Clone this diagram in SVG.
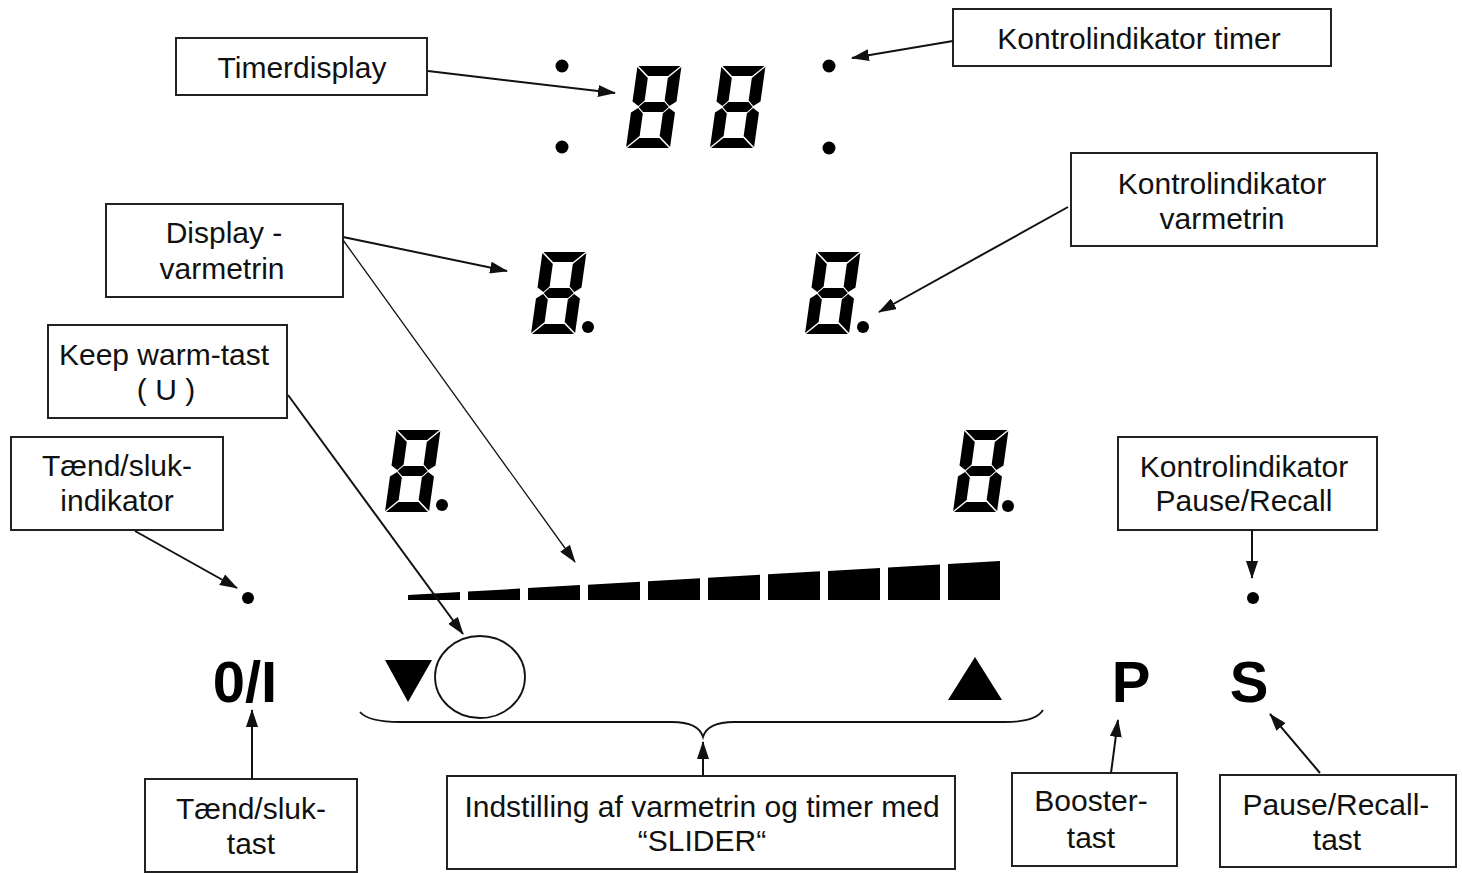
<svg xmlns="http://www.w3.org/2000/svg" width="1462" height="873" viewBox="0 0 1462 873">
<style>
.box{fill:#fff;stroke:#222;stroke-width:2}
.lbl{font-family:"Liberation Sans",Arial,sans-serif;font-size:30px;fill:#111;text-anchor:middle}
.key{font-family:"Liberation Sans",Arial,sans-serif;font-weight:bold;font-size:58px;fill:#000;text-anchor:middle}
.con{stroke:#111;stroke-width:2;fill:none;marker-end:url(#ah)}
.thin{stroke-width:1.3}
.seg{fill:#000}
</style>
<defs>
<marker id="ah" viewBox="0 0 18 12" refX="17" refY="6" markerWidth="18" markerHeight="12" orient="auto" markerUnits="userSpaceOnUse"><path d="M0,0 L18,6 L0,12 z" fill="#111"/></marker>
<g id="digit" class="seg">
<polygon points="1,0 43,0 32,10 12,10"/>
<polygon points="0,1 12,12 12,34.5 6.5,40 0,35.5"/>
<polygon points="44,1 32,12 32,34.5 37.5,40 44,35.5"/>
<polygon points="7,41 12,36 32,36 37,41 32,46 12,46"/>
<polygon points="0,46.5 6.5,42 12,47.5 12,70 0,81"/>
<polygon points="44,46.5 37.5,42 32,47.5 32,70 44,81"/>
<polygon points="12,72 32,72 43,82 1,82"/>
</g>
</defs>
<rect width="1462" height="873" fill="#fff"/>

<g id="timer-display">
<use href="#digit" transform="translate(637.5,66) skewX(-8)"/>
<use href="#digit" transform="translate(721.5,66) skewX(-8)"/>
<circle cx="562" cy="66" r="6.5"/><circle cx="562" cy="147" r="6.5"/>
</g>
<g id="timer-indicator">
<circle cx="829" cy="66" r="6.5"/><circle cx="829" cy="148" r="6.5"/>
</g>
<g id="heat-tl"><use href="#digit" transform="translate(542.5,252) skewX(-8)"/><circle cx="588" cy="327" r="6"/></g>
<g id="heat-tr"><use href="#digit" transform="translate(816.5,252) skewX(-8)"/><circle cx="863" cy="327" r="6"/></g>
<g id="heat-bl"><use href="#digit" transform="translate(396.5,430) skewX(-8)"/><circle cx="442" cy="505" r="6"/></g>
<g id="heat-br"><use href="#digit" transform="translate(964.5,430) skewX(-8)"/><circle cx="1008" cy="506" r="6"/></g>

<g id="slider-bar" fill="#000">
<polygon points="408,600 408,595 460,592 460,600"/>
<polygon points="468,600 468,591.6 520,588.6 520,600"/>
<polygon points="528,600 528,588.1 580,585.1 580,600"/>
<polygon points="588,600 588,584.7 640,581.7 640,600"/>
<polygon points="648,600 648,581.2 700,578.2 700,600"/>
<polygon points="708,600 708,577.8 760,574.8 760,600"/>
<polygon points="768,600 768,574.3 820,571.3 820,600"/>
<polygon points="828,600 828,570.9 880,567.9 880,600"/>
<polygon points="888,600 888,567.4 940,564.4 940,600"/>
<polygon points="948,600 948,564 1000,561 1000,600"/>
</g>
<g id="slider-keys">
<polygon points="385,660 432,660 408,702" fill="#000"/>
<ellipse cx="480" cy="677" rx="45" ry="41" fill="#fff" stroke="#111" stroke-width="1.8"/>
<polygon points="948,700 1002,700 975,657" fill="#000"/>
<path d="M360,712 C366,719 378,722 400,722 L672,722 C690,722 700,727 703,737 C706,727 716,722 734,722 L1005,722 C1026,722 1038,718 1043,710" fill="none" stroke="#111" stroke-width="1.8"/>
</g>
<g id="power-indicator"><circle cx="248" cy="598" r="6"/></g>
<g id="pause-indicator"><circle cx="1253" cy="598" r="6"/></g>
<g id="key-onoff"><text class="key" x="245" y="702">0/I</text></g>
<g id="key-p"><text class="key" x="1131" y="702">P</text></g>
<g id="key-s"><text class="key" x="1249" y="702">S</text></g>

<g id="lbl-timerdisplay"><rect class="box" x="176" y="38" width="251" height="57"/><text class="lbl" x="302" y="78">Timerdisplay</text></g>
<g id="lbl-kontrol-timer"><rect class="box" x="953" y="9" width="378" height="57"/><text class="lbl" x="1139" y="49">Kontrolindikator timer</text></g>
<g id="lbl-kontrol-varmetrin"><rect class="box" x="1071" y="153" width="306" height="93"/><text class="lbl" x="1222" y="194">Kontrolindikator</text><text class="lbl" x="1222" y="229">varmetrin</text></g>
<g id="lbl-display-varmetrin"><rect class="box" x="106" y="204" width="237" height="93"/><text class="lbl" x="224" y="243">Display -</text><text class="lbl" x="222" y="279">varmetrin</text></g>
<g id="lbl-keepwarm"><rect class="box" x="48" y="325" width="239" height="93"/><text class="lbl" x="164" y="365">Keep warm-tast</text><text class="lbl" x="166" y="400">( U )</text></g>
<g id="lbl-taend-indikator"><rect class="box" x="11" y="437" width="212" height="93"/><text class="lbl" x="117" y="476">Tænd/sluk-</text><text class="lbl" x="117" y="511">indikator</text></g>
<g id="lbl-kontrol-pause"><rect class="box" x="1118" y="437" width="259" height="93"/><text class="lbl" x="1244" y="477">Kontrolindikator</text><text class="lbl" x="1244" y="511">Pause/Recall</text></g>
<g id="lbl-taend-tast"><rect class="box" x="145" y="779" width="212" height="93"/><text class="lbl" x="251" y="819">Tænd/sluk-</text><text class="lbl" x="251" y="854">tast</text></g>
<g id="lbl-slider"><rect class="box" x="447" y="776" width="508" height="93"/><text class="lbl" x="702" y="817">Indstilling af varmetrin og timer med</text><text class="lbl" x="702" y="851">“SLIDER“</text></g>
<g id="lbl-booster"><rect class="box" x="1012" y="773" width="165" height="93"/><text class="lbl" x="1091" y="811">Booster-</text><text class="lbl" x="1091" y="848">tast</text></g>
<g id="lbl-pause-tast"><rect class="box" x="1220" y="775" width="236" height="92"/><text class="lbl" x="1336" y="815">Pause/Recall-</text><text class="lbl" x="1337" y="850">tast</text></g>

<g id="connectors">
<line class="con" x1="428" y1="71" x2="615" y2="93"/>
<line class="con" x1="953" y1="41" x2="852" y2="58"/>
<line class="con" x1="1068" y1="207" x2="879" y2="312"/>
<line class="con" x1="343" y1="237" x2="507" y2="271"/>
<line class="con thin" x1="343" y1="240" x2="575" y2="562"/>
<line class="con" x1="288" y1="395" x2="463" y2="634"/>
<line class="con" x1="135" y1="531" x2="237" y2="588"/>
<line class="con" x1="252" y1="779" x2="252" y2="710"/>
<line class="con" x1="703" y1="776" x2="703" y2="742"/>
<line class="con" x1="1111" y1="773" x2="1118" y2="720"/>
<line class="con" x1="1320" y1="773" x2="1270" y2="714"/>
<line class="con" x1="1252" y1="530" x2="1252" y2="578"/>
</g>
</svg>
